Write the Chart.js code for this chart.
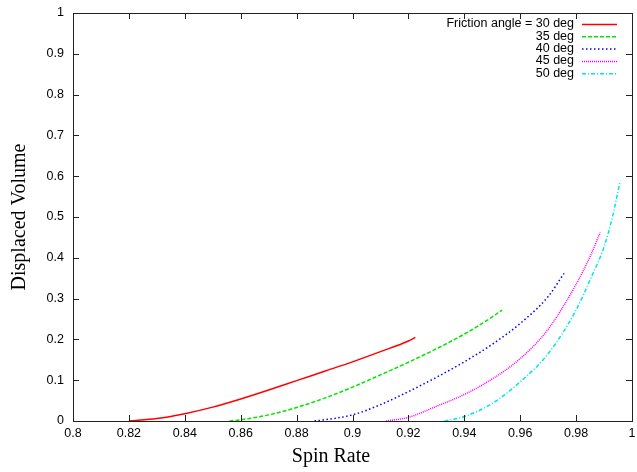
<!DOCTYPE html>
<html>
<head>
<meta charset="utf-8">
<script src="https://cdn.jsdelivr.net/npm/chart.js@4.4.0/dist/chart.umd.min.js"></script>
<style>
body { margin: 0; background: #fff; }
</style>
</head>
<body>
<canvas id="myChart" width="637" height="472"></canvas>
<script>
const seriesLabels = ['Friction angle = 30 deg', '35 deg', '40 deg', '45 deg', '50 deg'];
const seriesColors = ['rgb(255, 0, 0)', 'rgb(0, 230, 0)', 'rgb(0, 0, 255)', 'rgb(255, 0, 255)', 'rgb(0, 230, 230)'];
const seriesDash = [[], [4, 2], [1.5, 2.5], [1, 1], [4, 2, 1, 2]];

const spin30 = [0.82, 0.83, 0.84, 0.85, 0.86, 0.87, 0.88, 0.89, 0.90, 0.91, 0.92, 0.9225];
const vol30 = [0, 0.006, 0.018, 0.034, 0.054, 0.076, 0.099, 0.122, 0.145, 0.170, 0.196, 0.205];
const spin35 = [0.856, 0.86, 0.87, 0.88, 0.89, 0.90, 0.91, 0.92, 0.93, 0.94, 0.95, 0.9535];
const vol35 = [0, 0.003, 0.015, 0.033, 0.056, 0.083, 0.113, 0.144, 0.177, 0.213, 0.255, 0.272];
const spin40 = [0.8864, 0.89, 0.90, 0.91, 0.92, 0.93, 0.94, 0.95, 0.96, 0.97, 0.9757];
const vol40 = [0, 0.003, 0.015, 0.040, 0.072, 0.107, 0.145, 0.188, 0.239, 0.305, 0.362];
const spin45 = [0.912, 0.92, 0.93, 0.94, 0.95, 0.96, 0.97, 0.98, 0.985, 0.9886];
const vol45 = [0, 0.009, 0.036, 0.065, 0.103, 0.153, 0.225, 0.335, 0.403, 0.462];
const spin50 = [0.9329, 0.94, 0.95, 0.96, 0.97, 0.98, 0.985, 0.99, 0.993, 0.9956];
const vol50 = [0, 0.011, 0.043, 0.096, 0.165, 0.272, 0.346, 0.427, 0.500, 0.583];

const xTitle = 'Spin Rate';
const yTitle = 'Displaced Volume';

function toPoints(xs, ys){
    let pts = new Array;
    for ( let i = 0 ; i < xs.length ; i++) pts.push({x: xs[i], y: ys[i]});
    return pts;
}

const allSpin = [spin30, spin35, spin40, spin45, spin50];
const allVol = [vol30, vol35, vol40, vol45, vol50];
let datasets = new Array;
for ( let i = 0 ; i < allSpin.length ; i++){
    datasets.push({
        label: seriesLabels[i],
        data: toPoints(allSpin[i], allVol[i]),
        borderColor: seriesColors[i],
        borderDash: seriesDash[i],
        borderWidth: 1.5,
        pointRadius: 0,
        cubicInterpolationMode: 'monotone',
        fill: false
    });
}

// gnuplot-like frame, inward ticks on all sides, key and axis titles
const gnuplotFrame = {
    id: 'gnuplotFrame',
    afterDraw(chart){
        const ctx = chart.ctx;
        const a = chart.chartArea;
        const xs = chart.scales.x;
        const ys = chart.scales.y;
        const tl = 6;
        ctx.save();
        ctx.strokeStyle = '#222';
        ctx.lineWidth = 1;
        ctx.setLineDash([]);
        ctx.strokeRect(Math.round(a.left) + 0.5, Math.round(a.top) + 0.5, Math.round(a.right - a.left), Math.round(a.bottom - a.top));
        ctx.beginPath();
        xs.ticks.forEach(t => {
            const px = Math.round(xs.getPixelForValue(t.value)) + 0.5;
            ctx.moveTo(px, a.bottom); ctx.lineTo(px, a.bottom - tl);
            ctx.moveTo(px, a.top); ctx.lineTo(px, a.top + tl);
        });
        ys.ticks.forEach(t => {
            const py = Math.round(ys.getPixelForValue(t.value)) + 0.5;
            ctx.moveTo(a.left, py); ctx.lineTo(a.left + tl, py);
            ctx.moveTo(a.right, py); ctx.lineTo(a.right - tl, py);
        });
        ctx.stroke();

        ctx.font = '12.5px "Liberation Sans", Arial, sans-serif';
        ctx.textAlign = 'right';
        ctx.textBaseline = 'middle';
        chart.data.datasets.forEach((ds, i) => {
            const y = 24 + i * 12.3;
            ctx.fillStyle = '#000';
            ctx.fillText(ds.label, 574, y);
            ctx.strokeStyle = ds.borderColor;
            ctx.lineWidth = 1.5;
            ctx.setLineDash(ds.borderDash);
            ctx.beginPath();
            ctx.moveTo(582, y + 0.5);
            ctx.lineTo(617, y + 0.5);
            ctx.stroke();
        });
        ctx.setLineDash([]);

        ctx.fillStyle = '#000';
        ctx.font = '20px "Liberation Serif", "Times New Roman", serif';
        ctx.textAlign = 'center';
        ctx.textBaseline = 'middle';
        ctx.fillText(xTitle, 331, 457);
        ctx.translate(20, (a.top + a.bottom) / 2);
        ctx.rotate(-Math.PI / 2);
        ctx.fillText(yTitle, 0, 0);
        ctx.restore();
    }
};

new Chart('myChart', {
    type: 'line',
    data: { datasets: datasets },
    options: {
        responsive: false,
        animation: false,
        devicePixelRatio: 1,
        layout: { padding: { top: 13, right: 5, left: 0, bottom: 0 } },
        plugins: {
            legend: { display: false },
            tooltip: { enabled: false }
        },
        scales: {
            x: {
                type: 'linear',
                min: 0.8,
                max: 1,
                grid: { display: false, drawTicks: false },
                border: { display: false },
                afterFit: function(scale){
                    scale.height = 51;
                    scale.paddingLeft = 0;
                    scale.paddingRight = 0;
                },
                ticks: {
                    stepSize: 0.02,
                    padding: 5,
                    color: '#000',
                    maxRotation: 0,
                    font: { family: '"Liberation Sans", Arial, sans-serif', size: 12.5 },
                    callback: function(v){ return String(+v.toFixed(2)); }
                }
            },
            y: {
                type: 'linear',
                min: 0,
                max: 1,
                grid: { display: false, drawTicks: false },
                border: { display: false },
                afterFit: function(scale){
                    scale.width = 73;
                    scale.paddingTop = 0;
                    scale.paddingBottom = 0;
                },
                ticks: {
                    stepSize: 0.1,
                    padding: 9,
                    color: '#000',
                    font: { family: '"Liberation Sans", Arial, sans-serif', size: 12.5 },
                    callback: function(v){ return String(+v.toFixed(1)); }
                }
            }
        }
    },
    plugins: [gnuplotFrame]
});
</script>
</body>
</html>
